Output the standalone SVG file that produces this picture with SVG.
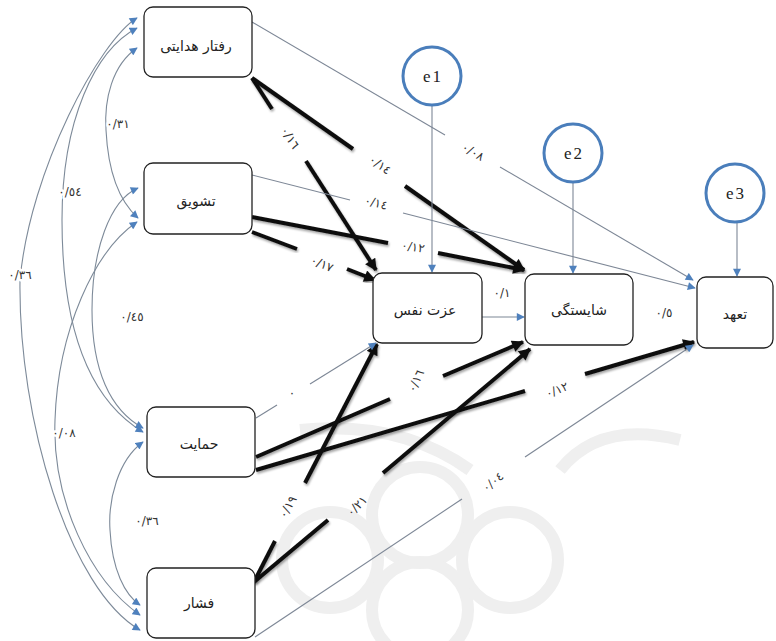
<svg xmlns="http://www.w3.org/2000/svg" width="776" height="641" viewBox="0 0 776 641">
<defs>
<style>
.box{fill:#fff;stroke:#222;stroke-width:1.3}
.err{fill:#fff;stroke:#4a7ebb;stroke-width:3}
.nt{font-family:"DejaVu Sans",sans-serif;font-size:14px;fill:#222;text-anchor:middle;dominant-baseline:central}
.et{font-family:"Liberation Serif",serif;font-size:17px;fill:#222;text-anchor:middle;dominant-baseline:central;letter-spacing:2px}
.thick{stroke:#111;stroke-width:4;fill:none;stroke-linecap:butt;filter:url(#sh)}
.thin{stroke:#7d8796;stroke-width:1.1;fill:none}
.cov{stroke:#7d8a99;stroke-width:1.1;fill:none;marker-start:url(#ab);marker-end:url(#ab)}
.lb{font-family:"DejaVu Sans",sans-serif;font-size:12px;fill:#333;text-anchor:middle;dominant-baseline:central}
.halo{stroke:#fff;stroke-width:5;paint-order:stroke;stroke-linejoin:round}
.wm{fill:none;stroke:#efefef;stroke-width:12}
</style>
<filter id="sh" x="-20%" y="-20%" width="140%" height="140%">
<feDropShadow dx="1" dy="2" stdDeviation="1.3" flood-color="#000" flood-opacity="0.35"/>
</filter>
<marker id="ak" viewBox="0 0 10 10" refX="9" refY="5" markerWidth="14" markerHeight="12" markerUnits="userSpaceOnUse" orient="auto">
<path d="M0,0 L10,5 L0,10 z" fill="#111"/>
</marker>
<marker id="ab" viewBox="0 0 10 10" refX="9" refY="5" markerWidth="9" markerHeight="8" markerUnits="userSpaceOnUse" orient="auto-start-reverse">
<path d="M0,0 L10,5 L0,10 z" fill="#4f81bd"/>
</marker>
</defs>
<rect width="776" height="641" fill="#fff"/>
<g id="watermark">
<circle class="wm" cx="330" cy="560" r="48"/>
<circle class="wm" cx="420" cy="515" r="48"/>
<circle class="wm" cx="510" cy="560" r="48"/>
<circle class="wm" cx="420" cy="610" r="48"/>
<path class="wm" d="M300,430 Q400,420 470,470"/>
<path class="wm" d="M560,470 Q600,420 680,440"/>
</g>
<g id="connectors">
<path class="cov" d="M137,18 C100,40 30,170 20,280 C18,420 70,590 140,630"/>
<path class="cov" d="M137,28 C95,50 62,120 62,220 C62,330 90,400 143,432"/>
<path class="cov" d="M137,48 C112,65 104,100 106,130 C108,170 118,200 138,218"/>
<path class="cov" d="M138,188 C110,200 92,250 92,310 C92,370 110,410 143,428"/>
<path class="cov" d="M137,222 C95,250 58,330 55,420 C52,500 90,580 140,615"/>
<path class="cov" d="M143,442 C118,460 108,500 110,530 C112,570 125,595 140,605"/>
<line class="thick" x1="252" y1="78" x2="272" y2="109"/>
<line class="thick" x1="306" y1="161" x2="376" y2="270" marker-end="url(#ak)"/>
<line class="thick" x1="252" y1="78" x2="353" y2="149"/>
<line class="thick" x1="405" y1="186" x2="524" y2="270" marker-end="url(#ak)"/>
<line class="thick" x1="252" y1="217" x2="388" y2="243"/>
<line class="thick" x1="438" y1="253" x2="524" y2="270" marker-end="url(#ak)"/>
<line class="thick" x1="252" y1="232" x2="297" y2="249"/>
<line class="thick" x1="347" y1="269" x2="375" y2="280" marker-end="url(#ak)"/>
<line class="thick" x1="633" y1="314" x2="645" y2="314"/>
<line class="thick" x1="684" y1="316" x2="696" y2="316" marker-end="url(#ak)"/>
<line class="thick" x1="256" y1="457" x2="390" y2="399"/>
<line class="thick" x1="443" y1="376" x2="523" y2="342" marker-end="url(#ak)"/>
<line class="thick" x1="256" y1="470" x2="525" y2="391"/>
<line class="thick" x1="585" y1="374" x2="694" y2="342" marker-end="url(#ak)"/>
<line class="thick" x1="254" y1="582" x2="275" y2="541"/>
<line class="thick" x1="305" y1="483" x2="377" y2="344" marker-end="url(#ak)"/>
<line class="thick" x1="254" y1="582" x2="328" y2="520"/>
<line class="thick" x1="383" y1="473" x2="530" y2="349" marker-end="url(#ak)"/>
<line class="thin" x1="252" y1="22" x2="445" y2="135"/>
<line class="thin" x1="500" y1="167" x2="693" y2="280" marker-end="url(#ab)"/>
<line class="thin" x1="252" y1="175" x2="350" y2="200"/>
<line class="thin" x1="403" y1="213" x2="695" y2="288" marker-end="url(#ab)"/>
<line class="thin" x1="256" y1="418" x2="277" y2="405"/>
<line class="thin" x1="310" y1="384" x2="376" y2="343" marker-end="url(#ab)"/>
<line class="thin" x1="255" y1="637" x2="462" y2="499"/>
<line class="thin" x1="525" y1="457" x2="693" y2="345" marker-end="url(#ab)"/>
<line class="thin" x1="482" y1="317" x2="524" y2="317" marker-end="url(#ab)"/>
<line class="thin" x1="432" y1="106" x2="432" y2="272" marker-end="url(#ab)"/>
<line class="thin" x1="573" y1="182" x2="573" y2="273" marker-end="url(#ab)"/>
<line class="thin" x1="737" y1="222" x2="737" y2="276" marker-end="url(#ab)"/>
</g>
<g id="labels">
<text class="lb halo" x="20" y="275">٠/٣٦</text>
<text class="lb halo" x="70" y="192">٠/٥٤</text>
<text class="lb halo" x="118" y="124">٠/٣١</text>
<text class="lb halo" x="132" y="317">٠/٤٥</text>
<text class="lb halo" x="64" y="433">٠/٠٨</text>
<text class="lb halo" x="147" y="521">٠/٣٦</text>
<text class="lb" x="290" y="138" transform="rotate(57 290 138)">٠/١٦</text>
<text class="lb" x="380" y="165" transform="rotate(35 380 165)">٠/١٤</text>
<text class="lb" x="473" y="152" transform="rotate(30 473 152)">٠/٠٨</text>
<text class="lb" x="376" y="203" transform="rotate(14 376 203)">٠/١٤</text>
<text class="lb" x="413" y="247" transform="rotate(10 413 247)">٠/١٢</text>
<text class="lb" x="322" y="264" transform="rotate(22 322 264)">٠/١٧</text>
<text class="lb" x="502" y="293">٠/١</text>
<text class="lb" x="664" y="313">٠/٥</text>
<text class="lb" x="292" y="393">٠</text>
<text class="lb" x="416" y="381" transform="rotate(-65 416 381)">٠/١٦</text>
<text class="lb" x="557" y="390" transform="rotate(-22 557 390)">٠/١٢</text>
<text class="lb" x="288" y="507" transform="rotate(-60 288 507)">٠/١٩</text>
<text class="lb" x="357" y="506" transform="rotate(-45 357 506)">٠/٢١</text>
<text class="lb" x="493" y="482" transform="rotate(-40 493 482)">٠/٠٤</text>
</g>
<g id="n-raftar"><rect class="box" x="144" y="7" width="108" height="70" rx="9"/><text class="nt" x="196" y="46">رفتار هدایتی</text></g>
<g id="n-tashvigh"><rect class="box" x="144" y="163" width="108" height="71" rx="9"/><text class="nt" x="196" y="201">تشویق</text></g>
<g id="n-hemayat"><rect class="box" x="147" y="407" width="108" height="70" rx="9"/><text class="nt" x="199" y="444">حمایت</text></g>
<g id="n-feshar"><rect class="box" x="147" y="568" width="108" height="70" rx="9"/><text class="nt" x="199" y="603">فشار</text></g>
<g id="n-ezzat"><rect class="box" x="373" y="273" width="109" height="70" rx="9"/><text class="nt" x="425" y="310">عزت نفس</text></g>
<g id="n-shayestegi"><rect class="box" x="525" y="274" width="108" height="71" rx="9"/><text class="nt" x="579" y="310">شایستگی</text></g>
<g id="n-taahod"><rect class="box" x="697" y="277" width="76" height="71" rx="9"/><text class="nt" x="735" y="314">تعهد</text></g>
<g id="e1"><circle class="err" cx="432" cy="76" r="29"/><text class="et" x="433" y="76">e1</text></g>
<g id="e2"><circle class="err" cx="573" cy="153" r="29"/><text class="et" x="574" y="153">e2</text></g>
<g id="e3"><circle class="err" cx="735" cy="193" r="29"/><text class="et" x="736" y="193">e3</text></g>
</svg>
